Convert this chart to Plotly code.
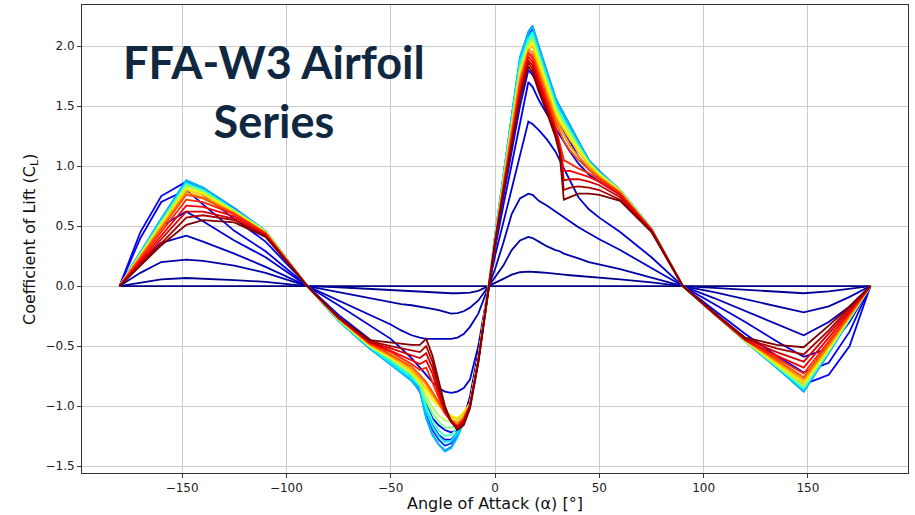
import plotly.graph_objects as go

# Angle of attack grid (deg) shared by all curves
ALPHA = [-180, -170, -160, -148, -140, -125, -110, -90,
         -75, -60, -50, -45, -40, -36, -33, -30, -27, -24, -21, -18, -15, -12, -8, -3,
         0, 4, 8, 12, 16, 18, 21, 25, 29, 31, 33, 36, 40, 45, 50, 60, 75,
         90, 105, 120, 135, 148, 160, 170, 180]

# airfoil index within the 50-member series (sets the colour position)
AIRFOIL_INDEX = [0, 1, 2, 3, 4, 5, 6, 9, 12, 15, 18, 21, 24, 27, 30, 33, 36, 39, 41, 43, 45, 47, 49]

CL_00 = [0, 0, 0, 0, 0, 0, 0, 0,
         0, 0, 0, 0, 0, 0, 0, 0, 0, 0, 0, 0, 0, 0, 0, 0,
         0, 0, 0, 0, 0, 0, 0, 0, 0, 0, 0, 0, 0, 0, 0, 0, 0,
         0, 0, 0, 0, 0, 0, 0, 0]
CL_01 = [0, 0.03, 0.055, 0.067, 0.063, 0.05, 0.035, 0,
         -0.01, -0.025, -0.035, -0.04, -0.045, -0.05, -0.052, -0.055, -0.058, -0.06, -0.06, -0.06, -0.058, -0.055, -0.04, 0,
         0.025, 0.06, 0.095, 0.115, 0.12, 0.12, 0.115, 0.11, 0.1, 0.1, 0.095, 0.09, 0.085, 0.075, 0.07, 0.055, 0.03,
         0, -0.015, -0.03, -0.045, -0.06, -0.045, -0.025, 0]
CL_02 = [0, 0.11, 0.2, 0.22, 0.21, 0.17, 0.11, 0,
         -0.05, -0.1, -0.13, -0.15, -0.16, -0.17, -0.18, -0.19, -0.2, -0.215, -0.23, -0.225, -0.21, -0.18, -0.12, 0,
         0.07, 0.17, 0.3, 0.38, 0.41, 0.4, 0.37, 0.33, 0.3, 0.29, 0.27, 0.25, 0.23, 0.2, 0.18, 0.14, 0.07,
         0, -0.05, -0.11, -0.17, -0.22, -0.17, -0.09, 0]
CL_03 = [0, 0.2, 0.36, 0.42, 0.37, 0.27, 0.16, 0,
         -0.12, -0.24, -0.32, -0.37, -0.41, -0.43, -0.44, -0.44, -0.44, -0.44, -0.44, -0.43, -0.4, -0.34, -0.23, 0,
         0.14, 0.36, 0.6, 0.73, 0.77, 0.76, 0.71, 0.67, 0.62, 0.6, 0.57, 0.54, 0.49, 0.44, 0.39, 0.3, 0.15,
         0, -0.1, -0.21, -0.32, -0.41, -0.3, -0.17, 0]
CL_04 = [0, 0.28, 0.5, 0.62, 0.54, 0.38, 0.24, 0,
         -0.16, -0.33, -0.44, -0.52, -0.6, -0.68, -0.74, -0.8, -0.85, -0.88, -0.89, -0.88, -0.85, -0.78, -0.5, 0,
         0.25, 0.53, 0.81, 1.1, 1.37, 1.35, 1.3, 1.22, 1.12, 1.05, 0.98, 0.88, 0.74, 0.64, 0.57, 0.45, 0.24,
         0, -0.15, -0.3, -0.46, -0.59, -0.52, -0.3, 0]
CL_05 = [0, 0.4, 0.7, 0.8, 0.68, 0.46, 0.29, 0,
         -0.24, -0.44, -0.58, -0.66, -0.76, -0.86, -0.98, -1.1, -1.16, -1.2, -1.22, -1.2, -1.1, -0.92, -0.55, 0,
         0.31, 0.67, 1.02, 1.38, 1.7, 1.66, 1.55, 1.43, 1.32, 1.26, 1.2, 1.12, 1.02, 0.93, 0.87, 0.76, 0.46,
         0, -0.2, -0.4, -0.58, -0.72, -0.64, -0.38, 0]
CL_06 = [0, 0.45, 0.75, 0.87, 0.76, 0.56, 0.37, 0,
         -0.27, -0.48, -0.62, -0.7, -0.78, -0.88, -1.04, -1.16, -1.24, -1.28, -1.28, -1.22, -1.12, -0.96, -0.58, 0,
         0.34, 0.74, 1.13, 1.5, 1.8, 1.76, 1.66, 1.54, 1.42, 1.36, 1.3, 1.2, 1.08, 0.97, 0.9, 0.78, 0.47,
         0, -0.23, -0.45, -0.66, -0.82, -0.74, -0.5, 0]
CL_09 = [0, 0.27, 0.55, 0.87, 0.81, 0.64, 0.46, 0,
         -0.29, -0.52, -0.64, -0.71, -0.78, -0.86, -1.06, -1.2, -1.28, -1.33, -1.31, -1.22, -1.11, -0.97, -0.6, 0,
         0.41, 0.91, 1.41, 1.88, 2.09, 2.14, 1.97, 1.75, 1.54, 1.47, 1.41, 1.31, 1.18, 1.04, 0.95, 0.8, 0.48,
         0, -0.23, -0.46, -0.68, -0.87, -0.55, -0.27, 0]
CL_12 = [0, 0.28, 0.56, 0.88, 0.82, 0.65, 0.46, 0,
         -0.29, -0.52, -0.65, -0.72, -0.79, -0.87, -1.1, -1.24, -1.32, -1.37, -1.34, -1.25, -1.13, -0.99, -0.6, 0,
         0.42, 0.92, 1.42, 1.91, 2.12, 2.17, 2.0, 1.78, 1.57, 1.5, 1.44, 1.34, 1.21, 1.05, 0.96, 0.8, 0.48,
         0, -0.23, -0.46, -0.68, -0.88, -0.56, -0.28, 0]
CL_15 = [0, 0.28, 0.56, 0.88, 0.82, 0.64, 0.46, 0,
         -0.29, -0.52, -0.65, -0.72, -0.79, -0.87, -1.1, -1.24, -1.32, -1.38, -1.35, -1.26, -1.13, -0.99, -0.6, 0,
         0.42, 0.92, 1.42, 1.9, 2.11, 2.16, 1.99, 1.77, 1.56, 1.49, 1.43, 1.33, 1.2, 1.05, 0.95, 0.8, 0.48,
         0, -0.23, -0.46, -0.68, -0.875, -0.55, -0.27, 0]
CL_18 = [0, 0.27, 0.54, 0.86, 0.8, 0.63, 0.46, 0,
         -0.29, -0.51, -0.64, -0.7, -0.77, -0.84, -1.04, -1.17, -1.25, -1.3, -1.29, -1.22, -1.11, -0.98, -0.6, 0,
         0.41, 0.91, 1.4, 1.87, 2.07, 2.12, 1.95, 1.73, 1.53, 1.46, 1.4, 1.3, 1.17, 1.03, 0.94, 0.8, 0.48,
         0, -0.23, -0.46, -0.67, -0.86, -0.55, -0.27, 0]
CL_21 = [0, 0.27, 0.54, 0.85, 0.8, 0.63, 0.46, 0,
         -0.28, -0.51, -0.62, -0.69, -0.75, -0.83, -1.0, -1.12, -1.2, -1.25, -1.24, -1.18, -1.09, -0.98, -0.6, 0,
         0.41, 0.9, 1.38, 1.84, 2.05, 2.09, 1.93, 1.71, 1.51, 1.44, 1.38, 1.29, 1.17, 1.03, 0.94, 0.8, 0.48,
         0, -0.23, -0.46, -0.67, -0.85, -0.54, -0.27, 0]
CL_24 = [0, 0.27, 0.53, 0.84, 0.79, 0.63, 0.46, 0,
         -0.28, -0.5, -0.61, -0.67, -0.74, -0.82, -0.96, -1.06, -1.13, -1.18, -1.18, -1.15, -1.08, -0.98, -0.6, 0,
         0.4, 0.89, 1.37, 1.82, 2.03, 2.07, 1.91, 1.69, 1.49, 1.42, 1.36, 1.27, 1.16, 1.03, 0.94, 0.8, 0.48,
         0, -0.23, -0.46, -0.66, -0.84, -0.54, -0.27, 0]
CL_27 = [0, 0.26, 0.52, 0.83, 0.78, 0.62, 0.45, 0,
         -0.28, -0.5, -0.6, -0.66, -0.73, -0.81, -0.92, -1.01, -1.08, -1.12, -1.13, -1.12, -1.06, -0.98, -0.6, 0,
         0.4, 0.88, 1.36, 1.8, 2.01, 2.05, 1.9, 1.68, 1.48, 1.41, 1.35, 1.26, 1.15, 1.02, 0.93, 0.79, 0.47,
         0, -0.23, -0.46, -0.66, -0.83, -0.53, -0.26, 0]
CL_30 = [0, 0.26, 0.51, 0.81, 0.77, 0.62, 0.45, 0,
         -0.28, -0.5, -0.6, -0.66, -0.72, -0.8, -0.88, -0.95, -1.0, -1.05, -1.08, -1.1, -1.05, -0.98, -0.6, 0,
         0.39, 0.87, 1.34, 1.78, 1.99, 2.03, 1.87, 1.66, 1.46, 1.38, 1.32, 1.24, 1.14, 1.02, 0.93, 0.79, 0.47,
         0, -0.23, -0.45, -0.65, -0.81, -0.52, -0.26, 0]
CL_33 = [0, 0.25, 0.5, 0.8, 0.76, 0.61, 0.45, 0,
         -0.27, -0.49, -0.59, -0.65, -0.71, -0.79, -0.85, -0.92, -0.99, -1.05, -1.09, -1.11, -1.06, -0.98, -0.61, 0,
         0.39, 0.86, 1.32, 1.76, 1.97, 2.0, 1.84, 1.63, 1.43, 1.36, 1.3, 1.22, 1.12, 1.01, 0.92, 0.79, 0.47,
         0, -0.23, -0.45, -0.64, -0.8, -0.51, -0.25, 0]
CL_36 = [0, 0.24, 0.49, 0.78, 0.74, 0.61, 0.44, 0,
         -0.27, -0.49, -0.58, -0.63, -0.69, -0.76, -0.82, -0.9, -0.98, -1.06, -1.11, -1.14, -1.09, -0.99, -0.62, 0,
         0.38, 0.84, 1.3, 1.73, 1.97, 1.95, 1.8, 1.6, 1.4, 1.33, 1.26, 1.17, 1.08, 0.99, 0.91, 0.78, 0.47,
         0, -0.23, -0.45, -0.63, -0.78, -0.5, -0.25, 0]
CL_39 = [0, 0.24, 0.48, 0.76, 0.73, 0.6, 0.44, 0,
         -0.27, -0.48, -0.57, -0.62, -0.67, -0.74, -0.8, -0.88, -0.97, -1.06, -1.12, -1.16, -1.1, -0.99, -0.62, 0,
         0.38, 0.83, 1.28, 1.7, 1.95, 1.92, 1.77, 1.57, 1.37, 1.29, 1.21, 1.13, 1.05, 0.97, 0.9, 0.78, 0.47,
         0, -0.23, -0.45, -0.62, -0.76, -0.48, -0.24, 0]
CL_41 = [0, 0.22, 0.45, 0.72, 0.7, 0.6, 0.44, 0,
         -0.27, -0.48, -0.55, -0.6, -0.65, -0.7, -0.68, -0.8, -0.93, -1.06, -1.13, -1.17, -1.11, -0.99, -0.62, 0,
         0.37, 0.82, 1.26, 1.67, 1.94, 1.9, 1.74, 1.54, 1.33, 1.19, 1.05, 1.02, 0.98, 0.94, 0.89, 0.77, 0.47,
         0, -0.23, -0.45, -0.6, -0.73, -0.46, -0.23, 0]
CL_43 = [0, 0.21, 0.42, 0.67, 0.66, 0.58, 0.43, 0,
         -0.27, -0.47, -0.54, -0.58, -0.62, -0.65, -0.62, -0.73, -0.9, -1.05, -1.13, -1.17, -1.12, -1.0, -0.62, 0,
         0.36, 0.8, 1.23, 1.63, 1.91, 1.87, 1.71, 1.51, 1.31, 1.17, 0.96, 0.96, 0.94, 0.91, 0.87, 0.76, 0.47,
         0, -0.23, -0.45, -0.58, -0.68, -0.43, -0.21, 0]
CL_45 = [0, 0.19, 0.39, 0.62, 0.62, 0.56, 0.42, 0,
         -0.26, -0.47, -0.52, -0.55, -0.58, -0.6, -0.56, -0.68, -0.87, -1.04, -1.13, -1.18, -1.13, -1.0, -0.63, 0,
         0.36, 0.79, 1.21, 1.6, 1.88, 1.84, 1.68, 1.48, 1.28, 1.14, 0.88, 0.89, 0.89, 0.87, 0.84, 0.74, 0.46,
         0, -0.23, -0.44, -0.55, -0.63, -0.4, -0.2, 0]
CL_47 = [0, 0.18, 0.36, 0.57, 0.59, 0.55, 0.42, 0,
         -0.26, -0.46, -0.5, -0.52, -0.54, -0.55, -0.5, -0.63, -0.84, -1.02, -1.13, -1.19, -1.14, -1.01, -0.63, 0,
         0.35, 0.78, 1.19, 1.58, 1.86, 1.81, 1.65, 1.46, 1.26, 1.12, 0.8, 0.82, 0.83, 0.82, 0.8, 0.72, 0.46,
         0, -0.22, -0.44, -0.52, -0.57, -0.37, -0.18, 0]
CL_49 = [0, 0.17, 0.34, 0.51, 0.55, 0.53, 0.41, 0,
         -0.26, -0.45, -0.47, -0.48, -0.49, -0.49, -0.44, -0.58, -0.8, -1.0, -1.13, -1.2, -1.16, -1.02, -0.64, 0,
         0.35, 0.77, 1.18, 1.56, 1.83, 1.78, 1.62, 1.44, 1.24, 1.1, 0.72, 0.74, 0.77, 0.77, 0.76, 0.71, 0.45,
         0, -0.22, -0.43, -0.49, -0.51, -0.33, -0.17, 0]

CURVES = [CL_00, CL_01, CL_02, CL_03, CL_04, CL_05, CL_06, CL_09, CL_12, CL_15, CL_18,
          CL_21, CL_24, CL_27, CL_30, CL_33, CL_36, CL_39, CL_41, CL_43, CL_45, CL_47, CL_49]
N_SERIES = 50

X_TICKS = [-150, -100, -50, 0, 50, 100, 150]
Y_TICKS = [-1.5, -1.0, -0.5, 0.0, 0.5, 1.0, 1.5, 2.0]


def jet(t):
    def c(v):
        return max(0.0, min(1.0, v))
    r = c(1.5 - abs(4 * t - 3))
    g = c(1.5 - abs(4 * t - 2))
    b = c(1.5 - abs(4 * t - 1))
    return f"rgb({round(r*255)},{round(g*255)},{round(b*255)})"


fig = go.Figure()
for idx, cl in zip(AIRFOIL_INDEX, CURVES):
    fig.add_trace(go.Scatter(
        x=ALPHA, y=cl, mode="lines",
        line=dict(color=jet(idx / (N_SERIES - 1)), width=1.8),
        hoverinfo="skip", showlegend=False))

axis_common = dict(
    showgrid=True, gridcolor="#cbcbcb", gridwidth=1, zeroline=False,
    showline=True, linecolor="#333333", linewidth=1, mirror=True,
    ticks="outside", ticklen=4, tickcolor="#333333", tickwidth=1,
    tickfont=dict(family="DejaVu Sans", size=12, color="#222222"),
)

fig.update_layout(
    width=915, height=515,
    margin=dict(l=82, r=7, t=5, b=42),
    paper_bgcolor="white", plot_bgcolor="white",
    showlegend=False,
    xaxis=dict(range=[-198, 198], tickvals=X_TICKS, **axis_common),
    yaxis=dict(range=[-1.558, 2.342], tickvals=Y_TICKS, tickformat=".1f", **axis_common),
    shapes=[dict(type="rect", xref="paper", yref="paper",
                 x0=0.0097, x1=0.455, y0=0.671, y1=0.964,
                 fillcolor="white", line=dict(width=0), layer="between")],
    annotations=[
        dict(text="Angle of Attack (α) [°]", xref="paper", yref="paper",
             x=0.5, y=-0.066, xanchor="center", yanchor="middle", showarrow=False,
             font=dict(family="DejaVu Sans", size=16, color="#111111")),
        dict(text="Coefficient of Lift (C<sub>L</sub>)", xref="paper", yref="paper",
             x=-0.063, y=0.5, xanchor="center", yanchor="middle", showarrow=False,
             textangle=-90, font=dict(family="DejaVu Sans", size=16, color="#111111")),
        dict(text="<b>FFA-W3 Airfoil</b><br><b>Series</b>", xref="paper", yref="paper",
             x=0.2324, y=0.816, xanchor="center", yanchor="middle", showarrow=False,
             align="center",
             font=dict(family="Lato", size=45, color="#10283f", weight=900)),
    ],
)

fig.write_html("out.html", config={"displayModeBar": False},
               post_script="document.body.style.margin='0';document.body.style.padding='0';")
